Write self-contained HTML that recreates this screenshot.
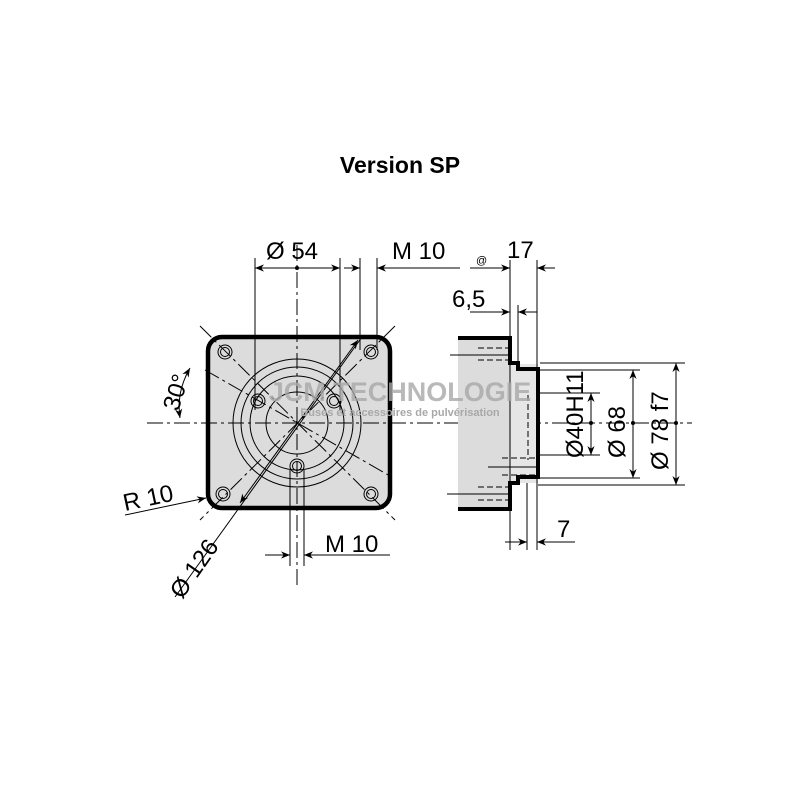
<!DOCTYPE html>
<html><head><meta charset="utf-8"><style>body{margin:0;background:#fff}svg{display:block}</style></head><body>
<svg width="800" height="800" viewBox="0 0 800 800" xmlns="http://www.w3.org/2000/svg" font-family="Liberation Sans, sans-serif">
<defs>
<marker id="a" viewBox="0 0 10 10" refX="10" refY="5" markerWidth="14" markerHeight="9" markerUnits="userSpaceOnUse" orient="auto-start-reverse"><path d="M0,1 L10,5 L0,9 L3,5z" fill="#000"/></marker>
</defs>
<text x="400" y="173" font-size="23" font-weight="bold" text-anchor="middle">Version SP</text>

<!-- front view -->
<rect x="208" y="337" width="182" height="171" rx="14" fill="#dcdcdc" stroke="#000" stroke-width="4.5"/>
<g fill="none" stroke="#000" stroke-width="1">
<circle cx="297" cy="423" r="64"/><circle cx="297" cy="423" r="56"/><circle cx="297" cy="423" r="47"/><circle cx="297" cy="423" r="31"/>
</g>
<g fill="none" stroke="#000" stroke-width="1">
<circle cx="225" cy="352" r="7"/><circle cx="225" cy="352" r="4.5"/>
<circle cx="371" cy="352" r="7"/><circle cx="371" cy="352" r="4.5"/>
<circle cx="223" cy="494" r="7"/><circle cx="223" cy="494" r="4.5"/>
<circle cx="371" cy="494" r="7"/><circle cx="371" cy="494" r="4.5"/>
<circle cx="258" cy="401" r="7"/><circle cx="258" cy="401" r="4.5"/>
<circle cx="334" cy="401" r="7"/><circle cx="334" cy="401" r="4.5"/>
<circle cx="297" cy="466" r="7"/><circle cx="297" cy="466" r="4.5"/>
</g>
<g stroke="#000" stroke-width="1" stroke-dasharray="16,4,3,4" fill="none">
<line x1="147" y1="423" x2="692" y2="423"/>
<line x1="297" y1="245" x2="297" y2="588"/>
<line x1="200" y1="326" x2="395" y2="520"/>
<line x1="395" y1="326" x2="200" y2="520"/>
<line x1="205" y1="370" x2="390" y2="476"/>
</g>
<g stroke="#000" stroke-width="1">
<line x1="255" y1="258" x2="255" y2="410"/><line x1="340" y1="258" x2="340" y2="410"/>
<line x1="360" y1="258" x2="360" y2="350"/><line x1="377" y1="258" x2="377" y2="350"/>
<line x1="290" y1="470" x2="290" y2="566"/><line x1="304" y1="470" x2="304" y2="566"/>
<line x1="175" y1="597" x2="362" y2="337" />
</g>
<g stroke="#000" stroke-width="1" fill="none">
<line x1="255" y1="268" x2="340" y2="268" marker-start="url(#a)" marker-end="url(#a)"/>
<line x1="344" y1="268" x2="360" y2="268" marker-end="url(#a)"/>
<line x1="460" y1="268" x2="377" y2="268" marker-end="url(#a)"/>
<line x1="265" y1="555" x2="290" y2="555" marker-end="url(#a)"/>
<line x1="390" y1="555" x2="304" y2="555" marker-end="url(#a)"/>
<line x1="240" y1="503" x2="358" y2="340" marker-start="url(#a)" marker-end="url(#a)"/>
<line x1="125" y1="515" x2="206" y2="498" marker-end="url(#a)"/>
<path d="M180,418 Q176,392 190,368" marker-start="url(#a)" marker-end="url(#a)"/>
</g>
<circle cx="297" cy="268" r="2" fill="#000"/>
<g font-size="24">
<text x="266" y="259">Ø 54</text>
<text x="392" y="259">M 10</text>
<text x="325" y="552">M 10</text>
<text x="125" y="511" transform="rotate(-12 125 511)">R 10</text>
<text x="182" y="600" transform="rotate(-55 182 600)">Ø 126</text>
<text x="178" y="412" transform="rotate(-72 178 412)">30°</text>
</g>

<!-- side view -->
<rect x="458" y="338" width="52" height="171" fill="#dcdcdc"/>
<rect x="510" y="364" width="28" height="119" fill="#e6e6e6"/>
<path d="M458,338 H510 V363 H518 V369 H538 V477 H518 V483 H510 V509 H458" fill="none" stroke="#000" stroke-width="4"/>
<g stroke="#000" stroke-width="1" fill="none">
<line x1="510" y1="260" x2="510" y2="550"/><line x1="537" y1="260" x2="537" y2="550"/>
<line x1="518" y1="305" x2="518" y2="363"/>
<line x1="527" y1="483" x2="527" y2="550"/>
<line x1="470" y1="268" x2="510" y2="268" marker-end="url(#a)"/>
<line x1="555" y1="268" x2="537" y2="268" marker-end="url(#a)"/>
<line x1="470" y1="312" x2="510" y2="312" marker-end="url(#a)"/>
<line x1="537" y1="312" x2="518" y2="312" marker-end="url(#a)"/>
<line x1="505" y1="542" x2="527" y2="542" marker-end="url(#a)"/>
<line x1="575" y1="542" x2="537" y2="542" marker-end="url(#a)"/>
<line x1="540" y1="363" x2="685" y2="363"/><line x1="538" y1="370" x2="640" y2="370"/>
<line x1="538" y1="393" x2="600" y2="393"/><line x1="538" y1="455" x2="600" y2="455"/>
<line x1="538" y1="478" x2="640" y2="478"/><line x1="538" y1="485" x2="685" y2="485"/>
<line x1="591" y1="423" x2="591" y2="393" marker-end="url(#a)"/><line x1="591" y1="423" x2="591" y2="455" marker-end="url(#a)"/>
<line x1="633" y1="423" x2="633" y2="370" marker-end="url(#a)"/><line x1="633" y1="423" x2="633" y2="478" marker-end="url(#a)"/>
<line x1="676" y1="423" x2="676" y2="363" marker-end="url(#a)"/><line x1="676" y1="423" x2="676" y2="485" marker-end="url(#a)"/>
<line x1="450" y1="355" x2="512" y2="355"/><line x1="447" y1="494" x2="512" y2="494"/>
<line x1="488" y1="467" x2="540" y2="467"/>
</g>
<g stroke="#000" stroke-width="1" stroke-dasharray="6,3" fill="none">
<line x1="478" y1="348" x2="508" y2="348"/><line x1="478" y1="360" x2="508" y2="360"/>
<line x1="478" y1="487" x2="508" y2="487"/><line x1="478" y1="500" x2="508" y2="500"/>
<line x1="528" y1="395" x2="528" y2="460"/>
<line x1="502" y1="458" x2="535" y2="458"/><line x1="502" y1="475" x2="535" y2="475"/>
</g>
<circle cx="591" cy="423" r="2" fill="#000"/><circle cx="633" cy="423" r="2" fill="#000"/><circle cx="676" cy="423" r="2" fill="#000"/>
<g font-size="24">
<text x="507" y="258">17</text>
<text x="452" y="307">6,5</text>
<text x="557" y="537">7</text>
<text x="583" y="458" transform="rotate(-90 583 458)">Ø40H11</text>
<text x="625" y="458" transform="rotate(-90 625 458)">Ø 68</text>
<text x="668" y="470" transform="rotate(-90 668 470)">Ø 78 f7</text>
</g>
<text x="476" y="264" font-size="11">@</text>
<text x="400" y="401" font-size="27" font-weight="bold" fill="#a8a8a8" fill-opacity="0.8" text-anchor="middle">JCM TECHNOLOGIE</text>
<text x="400" y="416" font-size="11" font-weight="bold" fill="#a8a8a8" text-anchor="middle">Buses et accessoires de pulvérisation</text>
</svg>
</body></html>
